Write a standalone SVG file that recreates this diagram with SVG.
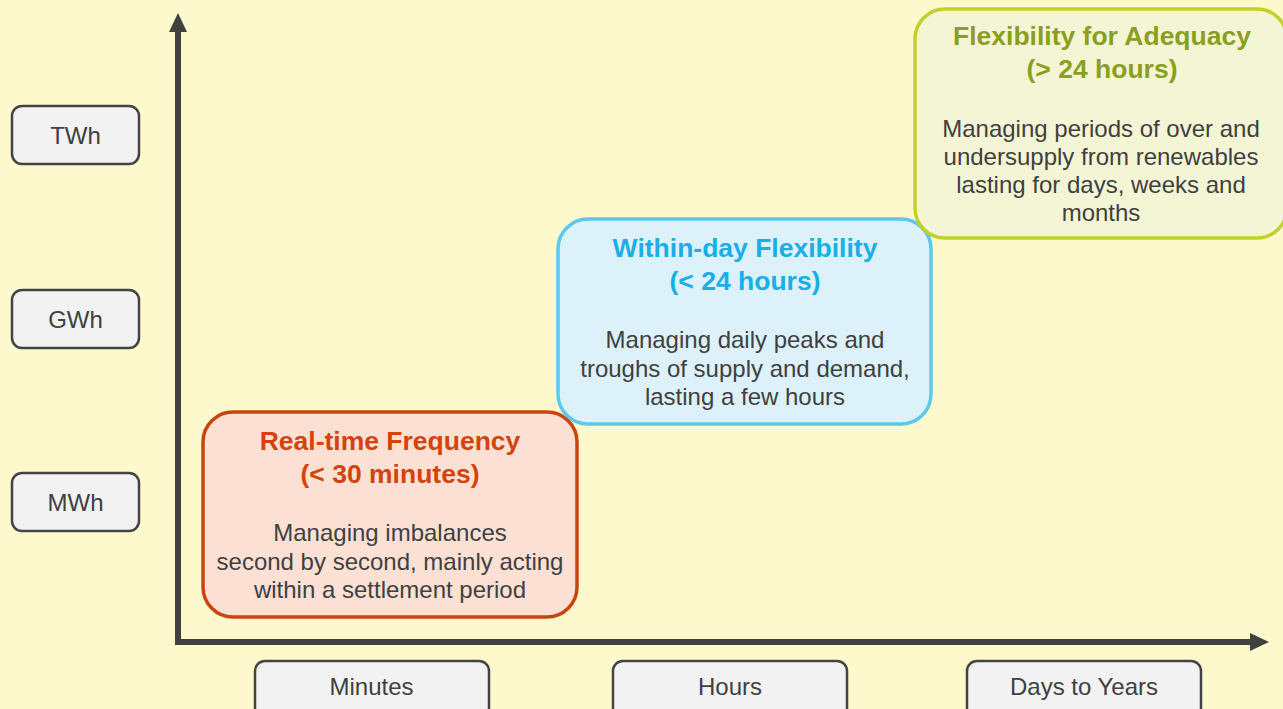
<svg xmlns="http://www.w3.org/2000/svg" width="1283" height="709" viewBox="0 0 1283 709">
<defs>
<style>
.lbl rect{fill:#f2f2f2;stroke:#444;stroke-width:2.5}
.lbl text{font-family:"Liberation Sans",Arial,sans-serif;font-size:24px;fill:#404040;text-anchor:middle}
.ttl{font-family:"Liberation Sans",Arial,sans-serif;font-size:26.5px;font-weight:bold;text-anchor:middle}
.body{font-family:"Liberation Sans",Arial,sans-serif;font-size:24px;fill:#404040;text-anchor:middle}
.axis{stroke:#404040;stroke-width:6;fill:none}
</style>
</defs>
<rect width="1283" height="709" fill="#fef9cc"/>
<g id="connectors">
<line class="axis" x1="178" y1="645" x2="178" y2="30"/>
<polygon points="178,13 169,32 187,32" fill="#404040"/>
<line class="axis" x1="175" y1="642" x2="1252" y2="642"/>
<polygon points="1269,642 1250,633 1250,651" fill="#404040"/>
</g>
<g id="twh" class="lbl"><rect x="12" y="106" width="127" height="58" rx="10"/><text x="75.5" y="143.5">TWh</text></g>
<g id="gwh" class="lbl"><rect x="12" y="290" width="127" height="58" rx="10"/><text x="75.5" y="328">GWh</text></g>
<g id="mwh" class="lbl"><rect x="12" y="473" width="127" height="58" rx="10"/><text x="75.5" y="511">MWh</text></g>
<g id="minutes" class="lbl"><rect x="255" y="661" width="234" height="60" rx="10"/><text x="371.5" y="695">Minutes</text></g>
<g id="hours" class="lbl"><rect x="613" y="661" width="234" height="60" rx="10"/><text x="730" y="695">Hours</text></g>
<g id="days" class="lbl"><rect x="967" y="661" width="234" height="60" rx="10"/><text x="1084" y="695">Days to Years</text></g>
<g id="realtime">
<rect x="203" y="412" width="374" height="205" rx="30" fill="#fbe0d3" stroke="#c9440e" stroke-width="3.5"/>
<text class="ttl" x="390" y="450" fill="#d4430c">Real-time Frequency</text>
<text class="ttl" x="390" y="483" fill="#d4430c">(&lt; 30 minutes)</text>
<text class="body" x="390" y="541">Managing imbalances</text>
<text class="body" x="390" y="570">second by second, mainly acting</text>
<text class="body" x="390" y="598">within a settlement period</text>
</g>
<g id="withinday">
<rect x="558" y="219" width="373" height="205" rx="30" fill="#dcf1f9" stroke="#5bc8ee" stroke-width="3.5"/>
<text class="ttl" x="745" y="257" fill="#1aaee6">Within-day Flexibility</text>
<text class="ttl" x="745" y="290" fill="#1aaee6">(&lt; 24 hours)</text>
<text class="body" x="745" y="348">Managing daily peaks and</text>
<text class="body" x="745" y="377">troughs of supply and demand,</text>
<text class="body" x="745" y="405">lasting a few hours</text>
</g>
<g id="adequacy">
<rect x="915" y="9" width="372" height="229" rx="30" fill="#f3f5d4" stroke="#c3cf2b" stroke-width="3.5"/>
<text class="ttl" x="1102" y="45" fill="#8b9f1e">Flexibility for Adequacy</text>
<text class="ttl" x="1102" y="78" fill="#8b9f1e">(&gt; 24 hours)</text>
<text class="body" x="1101" y="137">Managing periods of over and</text>
<text class="body" x="1101" y="165">undersupply from renewables</text>
<text class="body" x="1101" y="193">lasting for days, weeks and</text>
<text class="body" x="1101" y="221">months</text>
</g>
</svg>
